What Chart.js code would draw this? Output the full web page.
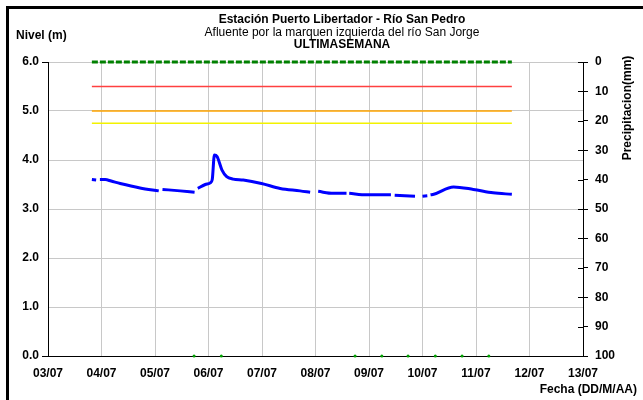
<!DOCTYPE html>
<html lang="es">
<head>
    <meta charset="UTF-8">
    <title>Estación Puerto Libertador - Río San Pedro</title>
    <script src="https://cdn.jsdelivr.net/npm/chart.js"></script>
    <style>
        body {
            margin: 0;
            background: #fff;
        }
        .wrap {
            position: relative;
            width: 643px;
            height: 400px;
        }
    </style>
</head>
<body>
    <div class="wrap">
        <canvas id="nivelChart" width="643" height="400"></canvas>
    </div>

    <script>
        // Nivel del rio (m), fecha como dia de julio con fraccion; null = sin dato
        const levelDays = [3.82, 3.90, 3.93, 3.97, 4.07, 4.18, 4.35, 4.72, 5.07, 5.11, 5.14, 5.47, 5.74, 5.775,
            5.80, 5.94, 6.04, 6.07, 6.11, 6.16, 6.25, 6.34, 6.46, 6.65, 6.99, 7.34, 7.71, 7.90, 7.94,
            8.05, 8.33, 8.58, 8.60, 8.63, 8.96, 9.41, 9.44, 9.48, 9.86, 9.93, 10.00, 10.09, 10.11,
            10.15, 10.21, 10.58, 10.95, 11.32, 11.67];
        const levelValues = [3.60, 3.59, null, 3.60, 3.60, 3.57, 3.52, 3.43, 3.37, null, 3.40, 3.37, 3.34, null,
            3.42, 3.50, 3.54, 3.60, 4.10, 4.07, 3.80, 3.66, 3.61, 3.59, 3.52, 3.42, 3.37, 3.34, null,
            3.36, 3.32, 3.32, null, 3.32, 3.29, 3.29, null, 3.28, 3.26, null, 3.26, 3.27, null,
            3.29, 3.30, 3.45, 3.40, 3.33, 3.30];

        // Precipitacion (mm), eje derecho invertido
        const precipDays = [3.82, 5.0, 6.0, 7.0, 8.0, 9.0, 10.0, 11.0, 11.67];
        const precipValues = [0, 0, 0, 0, 0, 0, 0, 0, 0];

        // Marcas verdes sobre el eje
        const markDays = [5.73, 6.24, 8.74, 9.24, 9.73, 10.24, 10.74, 11.24];
        const markValues = [0, 0, 0, 0, 0, 0, 0, 0];

        // Niveles de alerta
        const alertStart = 3.82;
        const alertEnd = 11.67;
        const redLevel = 5.5;
        const orangeLevel = 5.0;
        const yellowLevel = 4.75;

        const xMin = 3, xMax = 13;
        const yMin = 0, yMax = 6;
        const pMin = 0, pMax = 100;

        const FONT = "'Liberation Sans', Arial, sans-serif";

        function pts(xs, ys) {
            return xs.map((x, i) => ({ x: x, y: ys[i] }));
        }

        function hline(level, color) {
            return {
                data: [{ x: alertStart, y: level }, { x: alertEnd, y: level }],
                borderColor: color,
                borderWidth: 1.5,
                pointRadius: 0,
                yAxisID: 'y'
            };
        }

        // Textos fijos, marco, marcas interiores del eje derecho
        const decor = {
            id: 'decor',
            afterDraw(chart) {
                const ctx = chart.ctx;
                const y2 = chart.scales.y2;
                ctx.save();
                ctx.strokeStyle = '#000';
                ctx.lineWidth = 1;
                ctx.beginPath();
                y2.ticks.forEach(t => {
                    const py = Math.round(y2.getPixelForValue(t.value)) + 0.5;
                    ctx.moveTo(y2.left - 5, py);
                    ctx.lineTo(y2.left, py);
                });
                ctx.stroke();

                ctx.fillStyle = '#000';
                ctx.fillRect(6, 6, 637, 3);
                ctx.fillRect(6, 6, 3, 394);

                ctx.textAlign = 'center';
                ctx.textBaseline = 'middle';
                ctx.font = 'bold 12px ' + FONT;
                ctx.fillText('Estación Puerto Libertador - Río San Pedro', 342, 20);
                ctx.font = '12px ' + FONT;
                ctx.fillText('Afluente por la marquen izquierda del río San Jorge', 342, 33);
                ctx.font = 'bold 12px ' + FONT;
                ctx.fillText('ULTIMASEMANA', 342, 45);

                ctx.textAlign = 'left';
                ctx.fillText('Nivel (m)', 16, 36);

                ctx.textAlign = 'right';
                ctx.fillText('Fecha (DD/M/AA)', 637, 390);

                ctx.translate(628, 108);
                ctx.rotate(-Math.PI / 2);
                ctx.textAlign = 'center';
                ctx.fillText('Precipitacion(mm)', 0, 0);
                ctx.restore();
            }
        };

        const ctx = document.getElementById('nivelChart').getContext('2d');
        const chart = new Chart(ctx, {
            type: 'line',
            data: {
                datasets: [
                    hline(redLevel, '#ff4040'),
                    hline(orangeLevel, '#ffa500'),
                    hline(yellowLevel, '#f2f200'),
                    {
                        data: pts(precipDays, precipValues),
                        borderColor: '#008000',
                        borderWidth: 3,
                        borderDash: [6, 2],
                        pointRadius: 0,
                        yAxisID: 'y2',
                        clip: false
                    },
                    {
                        data: pts(levelDays, levelValues),
                        borderColor: '#0000ff',
                        borderWidth: 3,
                        pointRadius: 0,
                        spanGaps: false,
                        cubicInterpolationMode: 'monotone',
                        yAxisID: 'y'
                    },
                    {
                        data: pts(markDays, markValues),
                        showLine: false,
                        pointRadius: 1.5,
                        pointBackgroundColor: '#00a000',
                        pointBorderColor: '#00a000',
                        pointBorderWidth: 0,
                        yAxisID: 'y',
                        clip: false
                    }
                ]
            },
            options: {
                responsive: false,
                animation: false,
                layout: {
                    padding: { top: 62, left: 0, right: 0, bottom: 0 }
                },
                plugins: {
                    legend: { display: false },
                    title: { display: false },
                    tooltip: { enabled: false }
                },
                scales: {
                    x: {
                        type: 'linear',
                        min: xMin,
                        max: xMax,
                        afterFit: s => { s.height = 44; },
                        border: { color: '#000', width: 1 },
                        grid: { color: '#c8c8c8', drawTicks: false },
                        ticks: {
                            stepSize: 1,
                            padding: 10,
                            color: '#000',
                            font: { family: FONT, size: 12, weight: 'bold' },
                            maxRotation: 0,
                            callback: v => String(v).padStart(2, '0') + '/07'
                        }
                    },
                    y: {
                        position: 'left',
                        min: yMin,
                        max: yMax,
                        afterFit: s => { s.width = 48; },
                        border: { color: '#000', width: 1 },
                        grid: {
                            color: '#c8c8c8',
                            tickLength: 6,
                            tickColor: c => (c.tick && (c.tick.value === yMin || c.tick.value === yMax)) ? '#000' : 'rgba(0,0,0,0)'
                        },
                        ticks: {
                            stepSize: 1,
                            padding: 3,
                            color: '#000',
                            font: { family: FONT, size: 12, weight: 'bold' },
                            callback: v => v.toFixed(1)
                        }
                    },
                    y2: {
                        position: 'right',
                        reverse: true,
                        min: pMin,
                        max: pMax,
                        afterFit: s => { s.width = 60; },
                        border: { color: '#000', width: 1 },
                        grid: { drawOnChartArea: false, color: '#000', tickLength: 5 },
                        ticks: {
                            stepSize: 10,
                            padding: 7,
                            color: '#000',
                            font: { family: FONT, size: 12, weight: 'bold' }
                        }
                    }
                }
            },
            plugins: [decor]
        });
    </script>
</body>
</html>
